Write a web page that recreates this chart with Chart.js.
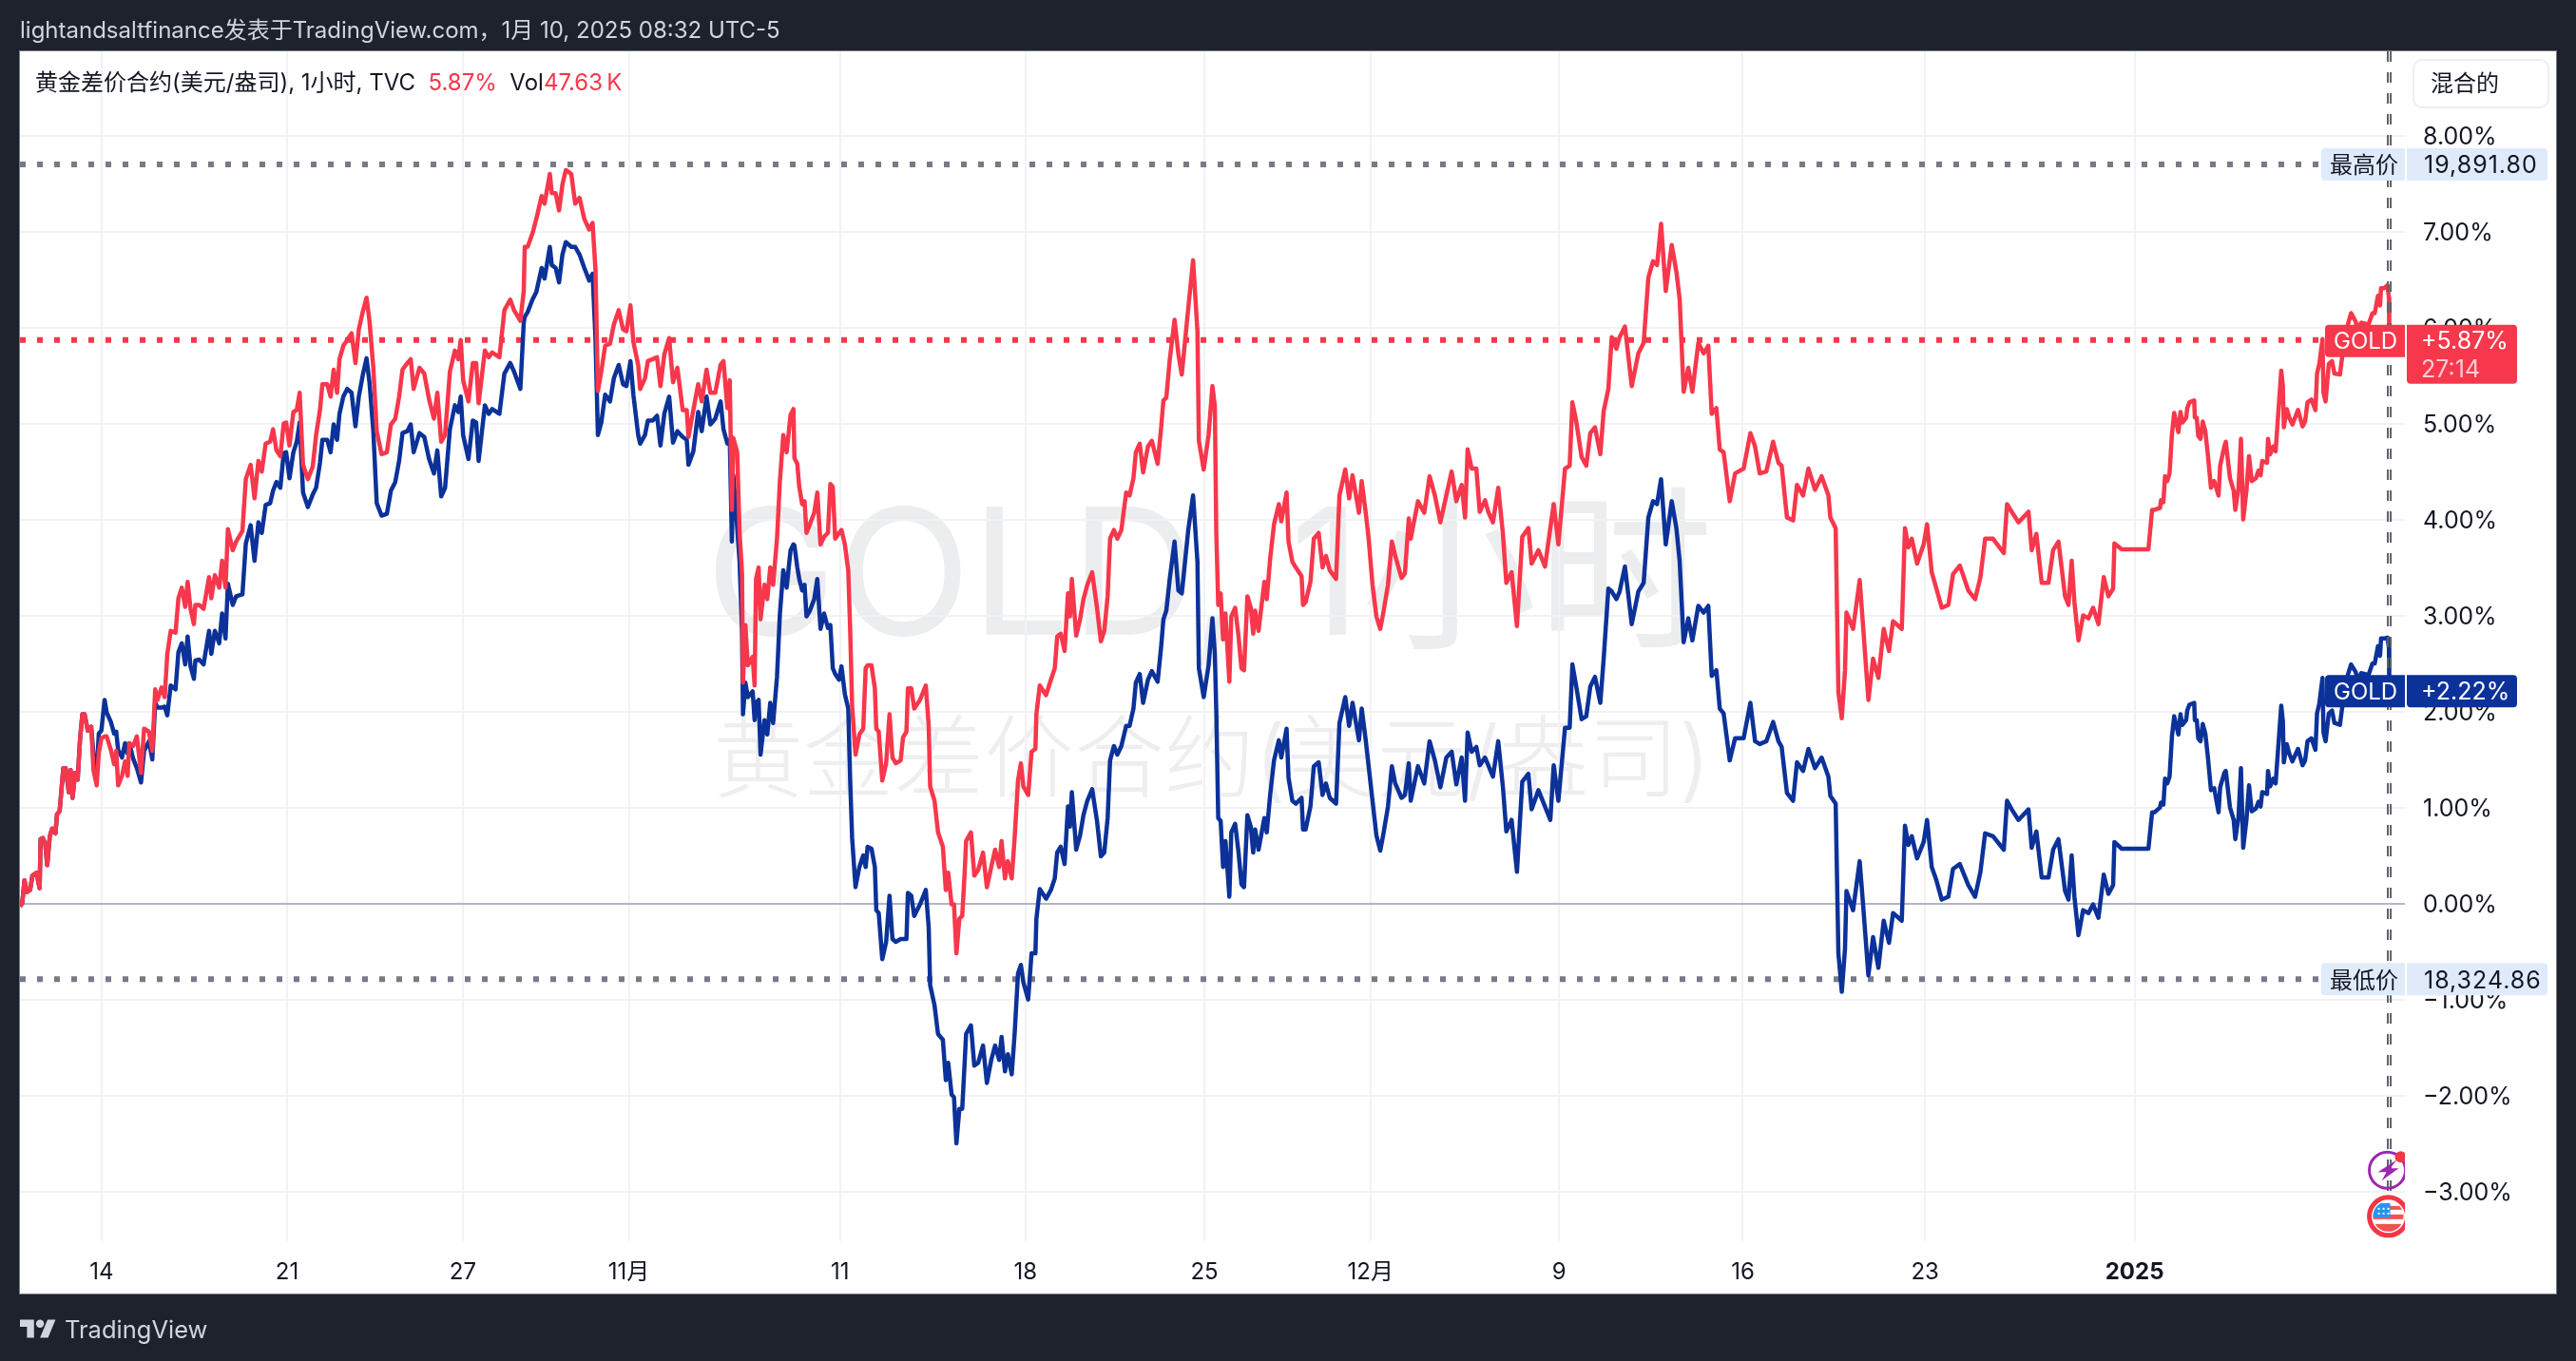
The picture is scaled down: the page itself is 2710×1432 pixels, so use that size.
<!DOCTYPE html>
<html lang="zh-CN">
<head>
<meta charset="utf-8">
<title>GOLD</title>
<script src="https://cdn.jsdelivr.net/npm/chart.js@4"></script>
<style>
    html, body { margin: 0; padding: 0; width: 2710px; height: 1432px; overflow: hidden; background: #1e222d; }
    body, div, span { font-family: Inter, "Noto Sans CJK SC", sans-serif; }
    .abs { position: absolute; white-space: nowrap; }
    #pane { left: 20px; top: 53px; width: 2668px; height: 1307px; background: #fff; border: 1px solid #787b86; }
    #chart { position: absolute; left: 0; top: 0; }
    #mark1 { left: 742px; top: 486px; font-size: 185px; line-height: 230px; color: #ecedef; }
    #mark2 { left: 750px; top: 733px; font-size: 95px; line-height: 130px; font-weight: 300; color: #eeeef0; }
    #header { left: 21px; top: 17px; font-size: 24px; line-height: 30px; color: #d1d4dc; }
    #legend { left: 37px; top: 72px; font-size: 24px; line-height: 30px; color: #131722; }
    #legend b { font-weight: 400; color: #f7374b; }
    #mode { left: 2538px; top: 62px; width: 123px; height: 48px; padding-left: 17px; border: 2px solid #eceef3; border-radius: 10px; font-size: 24px; line-height: 48px; color: #131722; }
    #logo { left: 21px; top: 1388px; }
    #brand { left: 68px; top: 1383px; font-size: 25.5px; line-height: 32px; color: #d1d4dc; }
</style>
</head>
<body>
<div class="abs" id="pane"></div>
<div class="abs" id="mark1">GOLD, 1小时</div>
<div class="abs" id="mark2">黄金差价合约(美元/盎司)</div>
<canvas id="chart" width="2710" height="1432"></canvas>
<div class="abs" id="header">lightandsaltfinance发表于TradingView.com，1月 10, 2025 08:32 UTC-5</div>
<div class="abs" id="legend">黄金差价合约(美元/盎司), 1小时, TVC &nbsp;<b>5.87%</b> &nbsp;Vol<b>47.63&#8201;K</b></div>
<div class="abs" id="mode">混合的</div>
<svg class="abs" id="logo" width="38" height="20" viewBox="0 4 36 18"><path fill="#d1d4dc" d="M14 22H7V11H0V4h14v18ZM28 22h-8l7.5-18h8L28 22Z"/><circle fill="#d1d4dc" cx="20" cy="8" r="4"/></svg>
<div class="abs" id="brand">TradingView</div>
<script>
// hourly bar number of every point
const bars = [
    5.3, 6.7, 8.1, 9.6, 11.6, 13, 15.5, 17.5, 18.1, 19.5, 21, 22.2, 23.8, 25.3, 27.3, 28.3, 29.9, 32.2, 33.6, 35.6,
    36.7, 37.9, 39.5, 41.1, 42.6, 44, 45.4, 47.4, 49.5, 50.9, 52.9, 54.2, 55.8, 57.8, 59.1, 61.7, 63.7, 65, 66.2, 68.6,
    70.5, 72.1, 73.1, 75.5, 77.8, 80.4, 82.3, 85.3, 87.4, 89.2, 90.6, 93.1, 95.1, 96.7, 98.8, 101.8, 103.6, 105.7, 107.8, 109.3,
    111.1, 113.2, 114.1, 116.5, 119.2, 122.6, 124, 126.2, 128.9, 130.7, 132.8, 134.3, 137.3, 139.4, 143.3, 145.4, 148.4, 150.8, 153.2, 155.3,
    157.7, 160.5, 162.3, 164.4, 166.8, 168.9, 170.4, 172.5, 174.9, 177, 178.8, 180.9, 183.9, 186.9, 189, 191.4, 192.9, 195.9, 198, 199.9,
    202, 203.5, 205.9, 208.3, 211, 213.4, 215.5, 217.9, 220.3, 222.1, 224.5, 226.6, 229.6, 232.9, 235.4, 238.1, 240.5, 242.6, 245.6, 247.7,
    249.5, 253.1, 256.1, 259.1, 262.1, 264.2, 266.6, 269, 272, 275.1, 277.2, 278.7, 280.2, 283.5, 286.2, 288.3, 289.8, 293.7, 296.1, 298.2,
    302.7, 305.8, 309.4, 311.8, 315.7, 317.8, 318.4, 320.2, 323.2, 325.6, 328.9, 330.7, 334, 335.2, 337.6, 339.7, 341.8, 343.9, 347.3, 349.7,
    352.4, 355.4, 358.4, 360.5, 362.3, 363.8, 365.9, 368.3, 371.3, 373.7, 376.7, 379.4, 381.5, 384, 385.8, 388.8, 390, 393, 394.8, 397.8,
    400.5, 402.6, 405, 408, 410.4, 413.1, 416.4, 418.9, 420, 423, 426, 428.2, 431.2, 433.6, 436.6, 439.9, 441.7, 444.1, 445.6, 446.9,
    447.8, 450.2, 451.7, 453.2, 453.8, 455.3, 456.8, 459.8, 461, 461.9, 463.5, 464.7, 467.1, 468.9, 470.7, 472.5, 474.9, 476.7, 478.8, 480.9,
    483.3, 485.1, 485.7, 487.5, 488.7, 490.5, 492, 493.2, 495.3, 498, 499.9, 501.9, 504.1, 506.5, 508, 509.5, 511, 513.4, 514.9, 517,
    519.1, 520.3, 521.5, 523.6, 526, 528.4, 529.9, 531.1, 533.5, 535.6, 536.5, 538, 540.2, 542.6, 544.7, 546.5, 548.6, 551.6, 553.1, 555.2,
    556.1, 558.2, 560, 563.6, 567.2, 569, 569.9, 572.6, 574.8, 577.8, 579.6, 581.1, 583.2, 584.7, 586.2, 588, 589.8, 591.3, 592.2, 595.2,
    597.3, 599.7, 602.7, 605.1, 607.8, 610.2, 612.7, 614.2, 616.3, 618.1, 620.5, 622.3, 624.4, 626.2, 627.7, 630.7, 632.8, 635.2, 635.8, 637.9,
    641.8, 644.8, 647.2, 648.7, 650.9, 653.3, 655.4, 656.6, 657.8, 660.5, 662.9, 665, 667.4, 670.4, 673.4, 675.8, 677.9, 680, 681.5, 683.9,
    686, 688.5, 691.5, 693.6, 696, 697.5, 699.9, 702, 705, 707.4, 711, 713.1, 714.6, 716.4, 718.5, 721.5, 723.9, 726, 730, 733,
    735.7, 736.6, 739.6, 742.6, 745, 746.5, 747.4, 748.6, 750.1, 751.6, 753.1, 755.5, 756.7, 759.1, 761.2, 763, 764.6, 766.7, 768.8, 770.3,
    771.5, 773.6, 777.2, 778.7, 780.8, 783.2, 786.2, 787.7, 791, 792.2, 794.6, 796.7, 800.3, 801.2, 802.8, 805.8, 807.9, 810.9, 813.3, 815.4,
    817.8, 821.7, 823.8, 827.4, 829.8, 831.9, 835.9, 837.6, 840.1, 841.9, 844.3, 846.7, 849.1, 850.9, 853.9, 856.3, 858.4, 862.3, 864.4, 866.8,
    868, 872.5, 876.4, 879.7, 883, 886.4, 890.1, 893.4, 896.3, 899.6, 901.7, 903.3, 905.8, 908.7, 910.8, 914.1, 916.1, 919, 922.3, 925.2,
    927.3, 930.6, 933.9, 937.2, 941, 943, 947.2, 951.3, 954.6, 956.7, 959.6, 963.7, 966.6, 968.3, 970.7, 974, 976.9, 979.4, 982.3, 985.6,
    987.7, 990.6, 992.7, 995.6, 997.6, 1000.9, 1005.1, 1009.2, 1012.5, 1015.4, 1018.3, 1020.8, 1023.3, 1026.2, 1029.9, 1032.8, 1034.8, 1037.3, 1040.2, 1042.7,
    1046.4, 1049.7, 1052.6, 1054.7, 1057.6, 1059.7, 1062.1, 1065.9, 1069.2, 1074.5, 1078.7, 1081.6, 1084.5, 1088.6, 1092.8, 1096.1, 1098.1, 1101.4, 1105.2, 1107.6,
    1111.4, 1114.7, 1118.8, 1122.9, 1127.1, 1128.3, 1131.6, 1133.3, 1135.4, 1137.4, 1138.3, 1142.4, 1146.5, 1148.6, 1151.9, 1154.8, 1158.1, 1161.4, 1164.7, 1167.2,
    1172.6, 1174.6, 1176.7, 1178.8, 1182.1, 1186.2, 1188.3, 1191.2, 1194.1, 1197.4, 1201.5, 1204.4, 1208.6, 1213.9, 1218.1, 1221.4, 1224.3, 1229.2, 1235.9, 1237.9,
    1240.8, 1245, 1251.2, 1253.2, 1256.1, 1259.4, 1263.6, 1266.5, 1269.8, 1273.9, 1276, 1278, 1279.7, 1282.2, 1285.1, 1288.4, 1291.3, 1294.6, 1297.9, 1300.8,
    1303.7, 1304.5, 1309, 1325.6, 1327.9, 1329.4, 1332.8, 1333.4, 1334.9, 1335.9, 1337.3, 1338.7, 1340.2, 1341.6, 1344.2, 1345.5, 1346.7, 1349, 1349.7, 1351,
    1354, 1354.4, 1355.6, 1356.5, 1357.9, 1359.3, 1360.9, 1362.4, 1364.4, 1366.4, 1369.1, 1370.1, 1372.7, 1373.6, 1376.2, 1378.5, 1379.5, 1381.5, 1383, 1384.4,
    1386.4, 1388, 1389.7, 1392.3, 1393.9, 1395.2, 1396.2, 1399.2, 1399.8, 1401.1, 1403.1, 1404.5, 1408, 1409, 1409.6, 1411.4, 1413, 1414.9, 1418.4, 1421.2,
    1422.8, 1424.3, 1426.7, 1429.2, 1430.2, 1431.6, 1433.6, 1434.2, 1435.5, 1437.5, 1439.5, 1441, 1444.4, 1445.7, 1449.3, 1451.3, 1454.2, 1455.6, 1457.5, 1462.1,
    1464.6, 1466, 1468, 1469.3, 1469.9, 1471.9, 1473.9, 1474.8, 1475
];

// first GOLD line, percent change
const goldRed = [
    -0.03, 0, 0.24, 0.12, 0.14, 0.29, 0.32, 0.16, 0.67, 0.68, 0.62, 0.4, 0.7, 0.78, 0.73, 0.93, 0.96, 1.41, 1.41, 1.16,
    1.39, 1.1, 1.36, 1.29, 1.72, 1.97, 1.97, 1.8, 1.84, 1.39, 1.23, 1.57, 1.72, 1.74, 1.74, 1.6, 1.45, 1.59, 1.23, 1.33,
    1.48, 1.33, 1.67, 1.64, 1.74, 1.36, 1.82, 1.79, 1.59, 2.23, 2.12, 2.25, 2.15, 2.6, 2.84, 2.82, 3.18, 3.29, 3.09, 3.35,
    3.07, 2.91, 3.11, 3.11, 3.07, 3.4, 3.18, 3.42, 3.29, 3.57, 3.29, 3.9, 3.68, 3.77, 3.88, 4.42, 4.57, 4.22, 4.61, 4.5,
    4.79, 4.81, 4.94, 4.72, 4.66, 5, 5.01, 4.77, 5.12, 5.14, 5.32, 4.57, 4.42, 4.55, 4.88, 5.14, 5.41, 5.41, 5.28, 5.56,
    5.32, 5.67, 5.81, 5.87, 5.94, 5.63, 5.98, 6.16, 6.31, 6.07, 5.58, 4.92, 4.68, 4.7, 4.99, 5.05, 5.28, 5.56, 5.63, 5.67,
    5.36, 5.58, 5.52, 5.25, 5.05, 5.32, 4.81, 4.88, 5.54, 5.76, 5.67, 5.87, 5.45, 5.23, 5.63, 5.63, 5.21, 5.76, 5.69, 5.74,
    5.69, 6.18, 6.29, 6.18, 6.07, 6.38, 6.84, 6.84, 6.98, 7.13, 7.37, 7.29, 7.6, 7.4, 7.4, 7.22, 7.49, 7.64, 7.6, 7.29,
    7.35, 7.13, 7.02, 7.09, 6.6, 5.34, 5.54, 5.81, 5.83, 6.03, 6.18, 5.98, 5.96, 6.23, 5.85, 5.61, 5.36, 5.47, 5.65, 5.67,
    5.69, 5.39, 5.72, 5.89, 5.43, 5.58, 5.14, 5.14, 4.86, 5.14, 5.41, 5.23, 5.56, 5.32, 5.32, 5.61, 5.65, 5.16, 5.45, 4.1,
    4.85, 4.7, 3.86, 3.44, 2.3, 2.9, 2.48, 2.57, 2.27, 3.38, 3.5, 2.96, 3.32, 3.17, 3.5, 3.32, 3.8, 4.4, 4.88, 4.7,
    5.09, 5.15, 4.64, 4.58, 4.34, 4.16, 4.19, 3.86, 3.95, 4.07, 4.28, 3.74, 3.82, 3.86, 4.37, 4.34, 3.8, 3.86, 3.89, 3.74,
    3.47, 2.84, 2.06, 1.55, 1.76, 1.82, 2.45, 2.48, 2.48, 2.24, 1.82, 1.79, 1.28, 1.46, 1.97, 1.52, 1.46, 1.49, 1.73, 1.79,
    2.24, 2.24, 2.03, 2.12, 2.27, 1.85, 1.22, 1.07, 0.74, 0.59, 0.14, 0.32, -0.01, -0.01, -0.52, -0.16, -0.13, 0.32, 0.65, 0.74,
    0.29, 0.35, 0.53, 0.17, 0.38, 0.56, 0.38, 0.65, 0.26, 0.44, 0.26, 0.68, 1.28, 1.46, 1.22, 1.13, 1.58, 1.61, 1.97, 2.27,
    2.17, 2.33, 2.45, 2.78, 2.81, 2.63, 3.23, 2.99, 3.38, 2.79, 2.96, 3.17, 3.32, 3.45, 3.08, 2.73, 2.84, 3.2, 3.8, 3.89,
    3.8, 3.89, 4.28, 4.25, 4.43, 4.7, 4.79, 4.49, 4.76, 4.82, 4.58, 4.94, 5.24, 5.27, 5.66, 6.08, 5.72, 5.51, 6.2, 6.7,
    5.96, 4.82, 4.52, 4.88, 5.39, 5.18, 3.86, 3.11, 3.23, 2.75, 3.02, 2.31, 2.99, 3.08, 2.78, 2.45, 2.43, 3.2, 3.08, 2.81,
    3.05, 2.84, 3.35, 3.17, 3.59, 3.95, 4.16, 3.98, 4.28, 3.77, 3.56, 3.5, 3.41, 3.11, 3.14, 3.35, 3.8, 3.86, 3.5, 3.62,
    3.47, 3.38, 4.25, 4.52, 4.22, 4.46, 4.07, 4.4, 4.07, 3.8, 3.32, 2.99, 2.86, 3.02, 3.32, 3.77, 3.62, 3.39, 3.44, 4.01,
    3.8, 4.19, 4.07, 4.45, 4.25, 3.97, 4.25, 4.5, 4.19, 4.36, 4.02, 4.73, 4.53, 4.53, 4.08, 4.2, 4.08, 3.97, 4.33, 3.85,
    3.34, 3.45, 2.89, 3.82, 3.91, 3.54, 3.68, 3.51, 3.91, 4.16, 3.74, 4.53, 4.56, 5.22, 5.02, 4.65, 4.56, 4.9, 4.96, 4.68,
    5.13, 5.36, 5.9, 5.78, 5.9, 6.01, 5.39, 5.73, 5.84, 6.52, 6.69, 6.65, 7.08, 6.38, 6.86, 6.58, 6.3, 5.33, 5.58, 5.33,
    5.84, 5.73, 5.81, 5.1, 5.16, 4.73, 4.7, 4.19, 4.48, 4.53, 4.9, 4.76, 4.48, 4.5, 4.81, 4.59, 4.56, 4.02, 3.99, 4.36,
    4.25, 4.53, 4.31, 4.45, 4.25, 4.02, 3.91, 2.2, 1.93, 2.43, 3.03, 2.86, 3.37, 2.89, 2.12, 2.55, 2.35, 2.86, 2.63, 2.94,
    2.86, 3.91, 3.71, 3.8, 3.54, 3.74, 3.95, 3.45, 3.28, 3.08, 3.11, 3.43, 3.52, 3.26, 3.17, 3.4, 3.8, 3.8, 3.65, 4.16,
    4.08, 3.97, 4.08, 3.68, 3.85, 3.34, 3.34, 3.68, 3.77, 3.2, 3.11, 3.57, 3.14, 2.74, 3, 2.97, 3.08, 2.91, 3.4, 3.2,
    3.28, 3.75, 3.69, 3.69, 4.1, 4.1, 4.12, 4.2, 4.18, 4.45, 4.4, 4.48, 4.89, 5.11, 4.91, 5.12, 5.01, 5.06, 5.16, 5.22,
    5.24, 5.06, 5.06, 4.87, 4.84, 5.02, 4.92, 4.69, 4.33, 4.4, 4.25, 4.56, 4.76, 4.81, 4.43, 4.3, 4.1, 4.33, 4.84, 4,
    4.3, 4.66, 4.4, 4.43, 4.51, 4.46, 4.61, 4.59, 4.84, 4.68, 4.76, 4.71, 5.55, 5.39, 4.96, 5.15, 5.06, 4.99, 5.14, 4.97,
    5.02, 5.22, 5.25, 5.14, 5.52, 5.62, 5.88, 5.32, 5.23, 5.62, 5.65, 5.52, 5.51, 5.68, 6.03, 6.15, 6.06, 5.96, 6.05, 6.03,
    6.15, 6.15, 6.33, 6.23, 6.41, 6.41, 6.44, 6.31, 5.87
];

// second GOLD line, percent change
const goldBlue = [
    -0.03, 0, 0.24, 0.12, 0.14, 0.29, 0.32, 0.16, 0.67, 0.68, 0.62, 0.4, 0.7, 0.78, 0.73, 0.93, 0.96, 1.41, 1.41, 1.16,
    1.39, 1.1, 1.36, 1.29, 1.72, 1.97, 1.97, 1.8, 1.84, 1.55, 1.35, 1.77, 1.8, 2.12, 1.99, 1.89, 1.77, 1.79, 1.6, 1.52,
    1.67, 1.56, 1.67, 1.51, 1.41, 1.26, 1.59, 1.69, 1.5, 2.09, 2.04, 2.04, 2.05, 1.96, 2.27, 2.23, 2.62, 2.71, 2.49, 2.78,
    2.47, 2.34, 2.53, 2.54, 2.49, 2.84, 2.6, 2.84, 2.71, 3.02, 2.76, 3.33, 3.11, 3.2, 3.22, 3.75, 3.94, 3.57, 3.97, 3.86,
    4.15, 4.17, 4.3, 4.39, 4.33, 4.69, 4.7, 4.43, 4.7, 4.81, 5.01, 4.28, 4.13, 4.26, 4.33, 4.59, 4.83, 4.83, 4.7, 4.99,
    4.83, 5.1, 5.28, 5.36, 5.32, 4.97, 5.28, 5.5, 5.68, 5.43, 4.92, 4.17, 4.04, 4.06, 4.3, 4.39, 4.61, 4.9, 4.92, 4.99,
    4.7, 4.9, 4.86, 4.63, 4.48, 4.72, 4.24, 4.33, 4.94, 5.19, 5.12, 5.28, 4.88, 4.63, 5.03, 5.01, 4.61, 5.19, 5.1, 5.15,
    5.1, 5.52, 5.63, 5.54, 5.36, 6.05, 6.11, 6.16, 6.29, 6.37, 6.62, 6.51, 6.84, 6.65, 6.62, 6.47, 6.76, 6.89, 6.84, 6.84,
    6.76, 6.62, 6.49, 6.56, 5.89, 4.88, 5.01, 5.3, 5.23, 5.47, 5.61, 5.41, 5.39, 5.65, 5.3, 4.88, 4.79, 4.88, 5.03, 5.03,
    5.08, 4.77, 5.1, 5.28, 4.8, 4.92, 4.86, 4.83, 4.57, 4.71, 5.12, 4.92, 5.28, 4.99, 5.05, 5.23, 4.94, 4.79, 4.83, 3.77,
    4.46, 3.92, 3.56, 2.84, 1.97, 2.3, 2.15, 2.21, 1.91, 2.09, 2.12, 1.55, 1.91, 1.76, 2.09, 1.88, 2.36, 3.02, 3.47, 3.29,
    3.68, 3.74, 3.73, 3.5, 3.38, 3.26, 3.32, 2.99, 3.05, 3.17, 3.38, 2.86, 3.02, 2.87, 2.9, 2.45, 2.39, 2.33, 2.47, 2.18,
    2.03, 1.28, 0.68, 0.17, 0.38, 0.5, 0.38, 0.59, 0.57, 0.38, -0.07, -0.1, -0.58, -0.4, 0.08, -0.37, -0.4, -0.37, -0.37, -0.37,
    0.11, 0.08, -0.13, -0.01, 0.14, -0.25, -0.85, -1.06, -1.36, -1.42, -1.84, -1.66, -1.99, -2.02, -2.5, -2.14, -2.14, -1.66, -1.36, -1.27,
    -1.69, -1.66, -1.48, -1.87, -1.63, -1.48, -1.63, -1.39, -1.75, -1.57, -1.78, -1.36, -0.73, -0.64, -0.82, -1, -0.52, -0.52, -0.16, 0.15,
    0.05, 0.14, 0.26, 0.53, 0.59, 0.41, 1.01, 0.8, 1.16, 0.56, 0.71, 0.92, 1.07, 1.19, 0.86, 0.49, 0.53, 0.89, 1.49, 1.64,
    1.55, 1.64, 1.85, 1.85, 2.03, 2.3, 2.39, 2.09, 2.33, 2.42, 2.31, 2.66, 2.96, 3.05, 3.38, 3.77, 3.26, 3.23, 3.89, 4.25,
    3.56, 2.45, 2.15, 2.48, 2.97, 2.6, 2, 0.89, 0.86, 0.38, 0.65, 0.07, 0.74, 0.83, 0.53, 0.2, 0.17, 0.92, 0.8, 0.53,
    0.77, 0.56, 0.89, 0.74, 1.13, 1.49, 1.7, 1.52, 1.82, 1.31, 1.07, 1.04, 1.1, 0.77, 0.77, 1.01, 1.43, 1.47, 1.13, 1.25,
    1.1, 1.04, 1.88, 2.15, 1.85, 2.09, 1.7, 2.03, 1.7, 1.43, 1.07, 0.71, 0.55, 0.71, 1.01, 1.43, 1.25, 1.1, 1.13, 1.46,
    1.07, 1.43, 1.25, 1.69, 1.49, 1.21, 1.52, 1.58, 1.24, 1.52, 1.07, 1.78, 1.58, 1.63, 1.44, 1.52, 1.44, 1.32, 1.69, 1.21,
    0.75, 0.87, 0.33, 1.27, 1.35, 0.98, 1.18, 1.01, 0.87, 1.44, 1.07, 1.83, 1.83, 2.49, 2.26, 1.92, 1.95, 2.26, 2.36, 2.09,
    2.55, 3.28, 3.25, 3.17, 3.25, 3.51, 2.91, 3.25, 3.34, 4.02, 4.19, 4.16, 4.42, 3.74, 4.19, 3.91, 3.57, 2.72, 2.97, 2.74,
    3.1, 3.03, 3.1, 2.37, 2.43, 2.03, 1.98, 1.49, 1.72, 1.72, 2.09, 1.69, 1.66, 1.69, 1.89, 1.69, 1.63, 1.15, 1.07, 1.47,
    1.38, 1.61, 1.41, 1.52, 1.32, 1.12, 1.04, -0.52, -0.92, -0.47, 0.13, -0.07, 0.44, -0.01, -0.75, -0.35, -0.67, -0.18, -0.41, -0.1,
    -0.18, 0.81, 0.61, 0.7, 0.47, 0.64, 0.87, 0.38, 0.24, 0.04, 0.07, 0.36, 0.41, 0.19, 0.07, 0.33, 0.73, 0.7, 0.56, 1.07,
    0.98, 0.87, 0.98, 0.58, 0.75, 0.27, 0.27, 0.56, 0.67, 0.13, 0.04, 0.5, 0.07, -0.33, -0.07, -0.1, -0.01, -0.15, 0.3, 0.1,
    0.19, 0.64, 0.57, 0.57, 0.95, 0.95, 1, 1.05, 1.03, 1.3, 1.25, 1.32, 1.74, 1.95, 1.76, 1.97, 1.86, 1.91, 2.01, 2.07,
    2.09, 1.91, 1.91, 1.72, 1.69, 1.87, 1.77, 1.54, 1.18, 1.2, 0.95, 1.21, 1.36, 1.38, 1, 0.87, 0.67, 0.9, 1.41, 0.58,
    0.87, 1.23, 0.96, 0.99, 1.06, 1.01, 1.16, 1.14, 1.38, 1.22, 1.3, 1.25, 2.06, 1.9, 1.47, 1.66, 1.56, 1.48, 1.61, 1.44,
    1.49, 1.69, 1.72, 1.6, 1.98, 2.08, 2.35, 1.78, 1.69, 1.98, 2.01, 1.88, 1.86, 2.03, 2.38, 2.49, 2.41, 2.31, 2.4, 2.38,
    2.5, 2.5, 2.68, 2.58, 2.76, 2.76, 2.77, 2.66, 2.22
];

const dateTickBars = [56, 171, 280, 383, 514, 629, 740, 843, 960, 1074, 1187, 1317];
const dateTickLabels = ['14', '21', '27', '11月', '11', '18', '25', '12月', '9', '16', '23', '2025'];

const lastBar = 1475;
const redLast = 5.87;
const blueLast = 2.22;
const highPct = 7.7;
const lowPct = -0.79;

const RED = '#f7374b';
const BLUE = '#0c3299';
const GREY = '#787b86';
const FONT = 'Inter, "Noto Sans CJK SC", sans-serif';

const xMin = 5.3;
const xMax = 1484.7;
const yMin = -3.519;
const yMax = 8.877;

function levelLine(value, color) {
    return {
        data: [{ x: xMin, y: value }, { x: xMax, y: value }],
        borderColor: color,
        borderWidth: 6,
        borderDash: [6, 12],
        pointRadius: 0
    };
}

function cursorLine(x) {
    return {
        data: [{ x: x, y: yMax }, { x: x, y: -3.05 }],
        borderColor: '#5d606b',
        borderWidth: 2,
        borderDash: [11, 11],
        pointRadius: 0
    };
}

function goldLine(values, color) {
    return {
        data: bars.map((b, i) => ({ x: b, y: values[i] })),
        borderColor: color,
        borderWidth: 4.5,
        borderJoinStyle: 'round',
        pointRadius: 0,
        tension: 0
    };
}

function tag(ctx, x, y, w, h, color, radius) {
    ctx.fillStyle = color;
    ctx.beginPath();
    ctx.roundRect(x, y, w, h, radius);
    ctx.fill();
}

// price labels and event badges sitting over the axis
const overlays = {
    id: 'overlays',
    afterDraw(chart) {
        const ctx = chart.ctx;
        const area = chart.chartArea;
        const y = chart.scales.y;
        const x = chart.scales.x;
        const right = area.right;
        ctx.save();
        ctx.textBaseline = 'middle';
        ctx.textAlign = 'left';

        [[highPct, '最高价', '19,891.80'], [lowPct, '最低价', '18,324.86']].forEach(([value, name, price]) => {
            const py = y.getPixelForValue(value);
            tag(ctx, right - 88, py - 17, 88, 34, '#dfebfb', [4, 0, 0, 4]);
            tag(ctx, right + 2, py - 17, 148, 34, '#dfebfb', [0, 4, 4, 0]);
            ctx.fillStyle = '#131722';
            ctx.font = '24px ' + FONT;
            ctx.fillText(name, right - 79, py + 2);
            ctx.font = '25px ' + FONT;
            ctx.letterSpacing = '1px';
            ctx.fillText(price, right + 20, py + 2);
            ctx.letterSpacing = '0px';
        });

        [[redLast, RED, '+5.87%', 62], [blueLast, BLUE, '+2.22%', 34]].forEach(([value, color, text, h]) => {
            const py = y.getPixelForValue(value);
            tag(ctx, right - 84, py - 16, 84, 34, color, [4, 0, 0, 4]);
            tag(ctx, right + 2, py - 16, 116, h, color, [0, 4, 4, 4]);
            ctx.fillStyle = '#fff';
            ctx.font = '24px ' + FONT;
            ctx.fillText('GOLD', right - 75, py + 2);
            ctx.font = '25px ' + FONT;
            ctx.fillText(text, right + 17, py + 2);
            if (h > 34) {
                ctx.fillStyle = 'rgba(255,255,255,0.75)';
                ctx.fillText('27:14', right + 17, py + 32);
            }
        });

        // badges are cut off by the price axis
        const bx = x.getPixelForValue(lastBar);
        ctx.beginPath();
        ctx.rect(area.left, area.top, area.width, area.height);
        ctx.clip();
        const by1 = y.getPixelForValue(-2.78);
        ctx.strokeStyle = '#9c27b0';
        ctx.lineWidth = 3;
        ctx.beginPath();
        ctx.arc(bx - 2, by1, 19, 0, Math.PI * 2);
        ctx.stroke();
        ctx.fillStyle = '#9c27b0';
        ctx.beginPath();
        ctx.moveTo(bx + 8, by1 - 11);
        ctx.lineTo(bx - 12, by1 + 2);
        ctx.lineTo(bx - 3, by1 + 2);
        ctx.lineTo(bx - 8, by1 + 11);
        ctx.lineTo(bx + 10, by1 - 2);
        ctx.lineTo(bx + 1, by1 - 2);
        ctx.closePath();
        ctx.fill();
        ctx.fillStyle = '#f23645';
        ctx.beginPath();
        ctx.arc(bx + 12, by1 - 14, 6, 0, Math.PI * 2);
        ctx.fill();

        const by2 = y.getPixelForValue(-3.26);
        ctx.strokeStyle = '#f23645';
        ctx.fillStyle = '#fff';
        ctx.lineWidth = 5;
        ctx.beginPath();
        ctx.arc(bx - 1, by2, 20, 0, Math.PI * 2);
        ctx.fill();
        ctx.stroke();
        ctx.save();
        ctx.beginPath();
        ctx.arc(bx - 1, by2, 16, 0, Math.PI * 2);
        ctx.clip();
        ctx.fillStyle = '#ef5350';
        ctx.fillRect(bx - 18, by2 - 11, 36, 4);
        ctx.fillRect(bx - 18, by2 - 2, 36, 5);
        ctx.fillRect(bx - 18, by2 + 8, 36, 8);
        ctx.fillStyle = '#2196f3';
        ctx.fillRect(bx - 18, by2 - 14, 19, 15);
        ctx.fillStyle = '#fff';
        [[-11, -9], [-6, -9], [-1, -9], [-11, -4], [-6, -4], [-1, -4]].forEach(([dx, dy]) => {
            ctx.fillRect(bx - 1 + dx, by2 + dy, 2, 2);
        });
        ctx.restore();
        ctx.restore();
    }
};

new Chart(document.getElementById('chart'), {
    type: 'line',
    data: {
        datasets: [
            cursorLine(lastBar - 0.9),
            cursorLine(lastBar + 0.9),
            goldLine(goldRed, RED),
            goldLine(goldBlue, BLUE),
            levelLine(redLast, RED),
            levelLine(highPct, GREY),
            levelLine(lowPct, GREY)
        ]
    },
    options: {
        responsive: false,
        animation: false,
        devicePixelRatio: 1,
        layout: { padding: { left: 21, top: 54, right: 20, bottom: 70 } },
        plugins: { legend: { display: false }, tooltip: { enabled: false } },
        scales: {
            x: {
                type: 'linear',
                min: xMin,
                max: xMax,
                border: { display: false },
                grid: { color: '#f1f2f5', lineWidth: 2, drawTicks: false },
                afterBuildTicks: scale => {
                    scale.ticks = dateTickBars.map(v => ({ value: v }));
                },
                afterFit: scale => { scale.height = 56; },
                ticks: {
                    autoSkip: false,
                    maxRotation: 0,
                    padding: 18,
                    color: '#131722',
                    font: ctx => ({ family: FONT, size: 24, weight: ctx.tick && ctx.tick.value === 1317 ? 'bold' : 'normal' }),
                    callback: value => dateTickLabels[dateTickBars.indexOf(value)]
                }
            },
            y: {
                position: 'right',
                min: yMin,
                max: yMax,
                border: { display: false },
                grid: {
                    drawTicks: false,
                    lineWidth: 2,
                    color: ctx => (ctx.tick && ctx.tick.value === 0 ? '#b2b5c6' : '#f1f2f5')
                },
                afterFit: scale => { scale.width = 160; },
                ticks: {
                    stepSize: 1,
                    includeBounds: false,
                    padding: 19,
                    labelOffset: 2,
                    color: '#131722',
                    font: { family: FONT, size: 25 },
                    callback: value => (value < 0 ? '−' : '') + Math.abs(value).toFixed(2) + '%'
                }
            }
        }
    },
    plugins: [overlays]
});
</script>
</body>
</html>
